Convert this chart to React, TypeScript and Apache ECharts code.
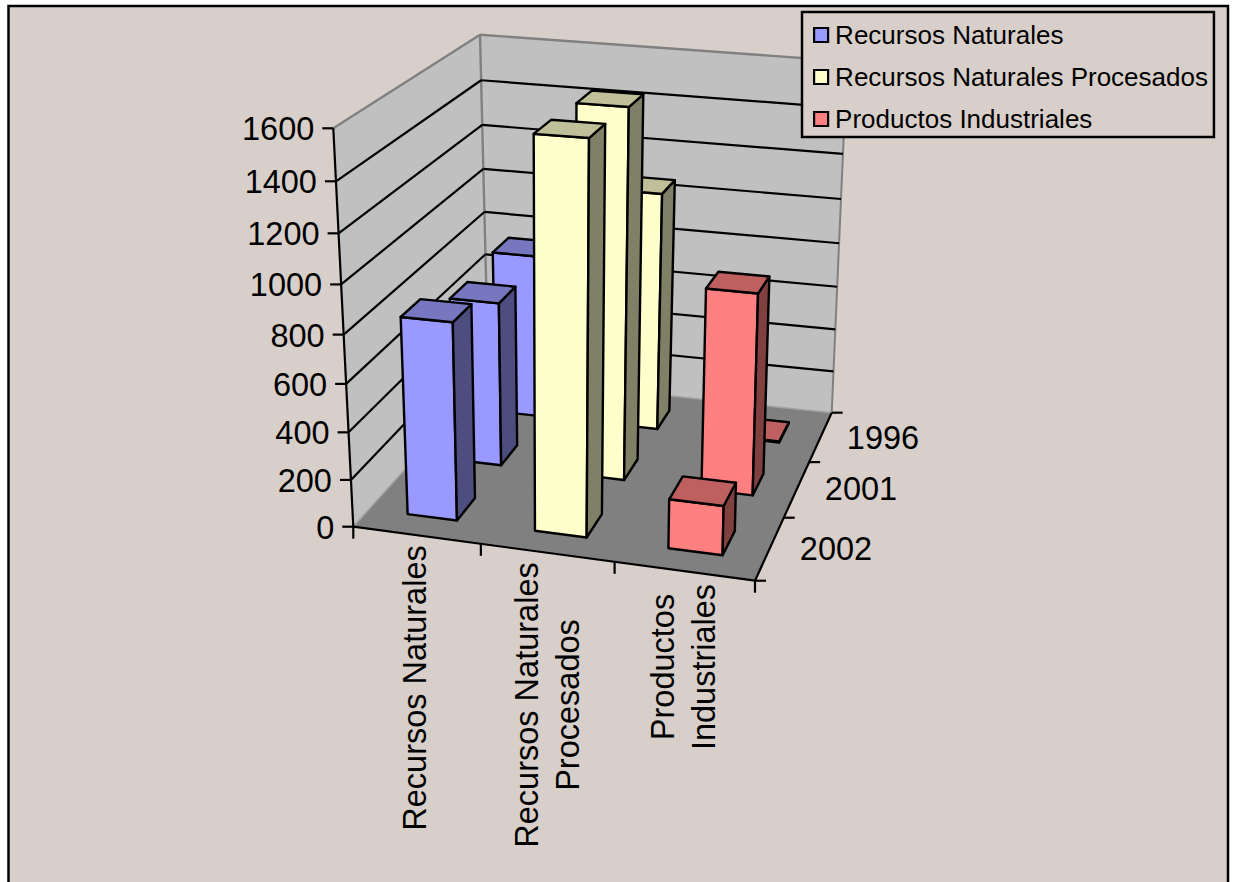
import React, { useEffect, useRef } from "react";
import * as echarts from "echarts";

const categories = ["Recursos Naturales", "Recursos Naturales\nProcesados", "Productos\nIndustriales"];
const seriesNames = ["Recursos Naturales", "Recursos Naturales Procesados", "Productos Industriales"];
const years = ["1996", "2001", "2002"];
const naturales = [745, 720, 830];
const procesados = [1072, 1575, 1590];
const industriales = [5, 868, 205];
const valueTicks = [0, 200, 400, 600, 800, 1000, 1200, 1400, 1600];

const FONT = '"Liberation Sans", Arial, sans-serif';
const VALUE_MAX = 1600;
const GRID_W = 900;
const GRID_H = 800;
const BAR_HALF = 0.0655;
const BAR_SHIFT = 0.0025;
const PERSPECTIVE = 1.074;

type Pt = [number, number];

// Corners of the box in order: front-left, front-right, back-right, back-left.
const FLOOR_QUAD: Pt[] = [[353.3, 526.7], [755, 580.7], [831.7, 412.7], [488.5, 377]];
const CEILING_QUAD: Pt[] = [[333.3, 128.3], [763, 160.8], [847, 61.3], [480, 34.7]];

const faces = [
  { front: "#9999FF", top: "#7777BF", side: "#4D4D80" },
  { front: "#FFFFCC", top: "#BFBF99", side: "#808066" },
  { front: "#FF8080", top: "#BF6060", side: "#804040" },
];

// Unit square to quadrilateral homography.
function quadMap(q: Pt[]) {
  const [p0, p1, p2, p3] = q;
  const d1x = p1[0] - p2[0], d1y = p1[1] - p2[1];
  const d2x = p3[0] - p2[0], d2y = p3[1] - p2[1];
  const sx = p0[0] - p1[0] + p2[0] - p3[0], sy = p0[1] - p1[1] + p2[1] - p3[1];
  const den = d1x * d2y - d2x * d1y;
  const g = (sx * d2y - d2x * sy) / den;
  const h = (d1x * sy - sx * d1y) / den;
  const a = p1[0] - p0[0] + g * p1[0], b = p3[0] - p0[0] + h * p3[0];
  const d = p1[1] - p0[1] + g * p1[1], e = p3[1] - p0[1] + h * p3[1];
  return (u: number, v: number): Pt => {
    const n = g * u + h * v + 1;
    return [(a * u + b * v + p0[0]) / n, (d * u + e * v + p0[1]) / n];
  };
}

const floorAt = quadMap(FLOOR_QUAD);
const ceilingAt = quadMap(CEILING_QUAD);

// u runs along the categories, v from front to back, w from floor to ceiling.
function project(u: number, v: number, w: number): Pt {
  const t = w <= 0 ? 0 : w / (w + (1 - w) * PERSPECTIVE);
  const a = floorAt(u, v), b = ceilingAt(u, v);
  return [a[0] + (b[0] - a[0]) * t, a[1] + (b[1] - a[1]) * t];
}

const poly = (points: Pt[], fill: string, stroke = "#000", lineWidth = 2.4) => ({
  type: "polygon",
  shape: { points },
  style: { fill, stroke, lineWidth, lineJoin: "round" },
});
const seg = (a: Pt, b: Pt, stroke = "#000", lineWidth = 2.2) => ({
  type: "line",
  shape: { x1: a[0], y1: a[1], x2: b[0], y2: b[1] },
  style: { stroke, lineWidth, fill: null },
});
const label = (text: string, x: number, y: number, align: string, extra: any = {}) => ({
  type: "text",
  x,
  y,
  ...extra,
  style: { text, x: 0, y: 0, fill: "#000", font: `32.5px ${FONT}`, align, verticalAlign: "middle", lineHeight: 41 },
});

const valueToW = (api: any, value: number) => 1 - api.coord([0, value])[1] / GRID_H;

// Walls and floor of the box.
const renderBox = () => {
  const gray = "#808080";
  const p = project;
  return {
    type: "group",
    children: [
      poly([p(0, 0, 0), p(0, 1, 0), p(0, 1, 1), p(0, 0, 1)], "#C0C0C0", "none", 0),
      poly([p(0, 1, 0), p(1, 1, 0), p(1, 1, 1), p(0, 1, 1)], "#C0C0C0", "none", 0),
      poly([p(0, 0, 0), p(1, 0, 0), p(1, 1, 0), p(0, 1, 0)], "#808080", "none", 0),
      seg(p(0, 0, 1), p(0, 1, 1), gray, 2.4),
      seg(p(0, 1, 1), p(1, 1, 1), gray, 2.4),
      seg(p(1, 1, 1), p(1, 1, 0), gray, 2),
      seg(p(0, 1, 1), p(0, 1, 0), gray, 2.4),
      seg(p(0, 0, 0), p(0, 1, 0), "#A0A0A0", 1.5),
      seg(p(0, 1, 0), p(1, 1, 0), "#A0A0A0", 1.5),
    ],
  };
};

// One gridline pair on the walls with its tick and value label.
const renderValueTick = (params: any, api: any) => {
  const value = valueTicks[params.dataIndex];
  const w = valueToW(api, value);
  const left = project(0, 0, w), corner = project(0, 1, w), right = project(1, 1, w);
  const inner = value > 0 && value < VALUE_MAX;
  const children: any[] = [];
  if (inner) children.push(seg(left, corner), seg(corner, right));
  children.push(seg(left, [left[0] - 11, left[1]]));
  children.push(label(String(value), left[0] - 19, left[1] + 1, "right"));
  return { type: "group", children };
};

// Front axes: the value edge, the category edge and the depth edge.
const renderAxes = () => {
  const p = project;
  const children: any[] = [
    seg(p(0, 0, 1), p(0, 0, 0)),
    seg(p(0, 0, 0), p(1, 0, 0)),
    seg(p(1, 0, 0), p(1, 1, 0)),
  ];
  for (let i = 0; i <= categories.length; i++) {
    const a = p(i / categories.length, 0, 0);
    children.push(seg(a, [a[0], a[1] + 12]));
  }
  for (let i = 0; i <= years.length; i++) {
    const a = p(1, i / years.length, 0);
    children.push(seg(a, [a[0] + 11, a[1]]));
  }
  return { type: "group", children };
};

const categoryLabelPos: Pt[] = [[415, 688], [547, 705], [683, 667]];
const yearLabelPos: Pt[] = [[883, 438], [861, 489], [836, 549]];

const renderCategoryLabel = (params: any) => {
  const i = params.dataIndex;
  return label(categories[i], categoryLabelPos[i][0], categoryLabelPos[i][1], "center", { rotation: Math.PI / 2 });
};
const renderYearLabel = (params: any) => {
  const i = params.dataIndex;
  return label(years[i], yearLabelPos[i][0], yearLabelPos[i][1], "center");
};

// Solid column drawn as front face, right side and top.
const renderBar = (colour: (typeof faces)[number]) => (params: any, api: any) => {
  const cat = api.value(0);
  const value = api.value(1);
  const u = api.coord([cat, value])[0] / GRID_W + BAR_SHIFT;
  const v = 1 - (params.dataIndex + 0.5) / years.length;
  const w = valueToW(api, value);
  const u0 = u - BAR_HALF, u1 = u + BAR_HALF, v0 = v - BAR_HALF, v1 = v + BAR_HALF;
  const p = project;
  return {
    type: "group",
    children: [
      poly([p(u0, v0, 0), p(u1, v0, 0), p(u1, v0, w), p(u0, v0, w)], colour.front),
      poly([p(u1, v0, 0), p(u1, v1, 0), p(u1, v1, w), p(u1, v0, w)], colour.side),
      poly([p(u0, v0, w), p(u1, v0, w), p(u1, v1, w), p(u0, v1, w)], colour.top),
    ],
  };
};

const helperSeries = (name: string, data: any[], renderItem: any) => ({
  type: "custom",
  name,
  data,
  renderItem,
  silent: true,
  clip: false,
});

export default function App() {
  const ref = useRef<HTMLDivElement>(null);
  useEffect(() => {
    document.body.style.margin = "0";
    const chart = echarts.init(ref.current!, undefined, { renderer: "svg" });
    const barData = [naturales, procesados, industriales];
    chart.setOption({
      animation: false,
      backgroundColor: "#FFFFFF",
      textStyle: { fontFamily: FONT },
      graphic: [
        {
          type: "rect",
          z: -10,
          shape: { x: 8.5, y: 6, width: 1219.5, height: 900 },
          style: { fill: "#D8CFCA", stroke: "#000", lineWidth: 2.5 },
        },
      ],
      grid: { left: 0, top: 0, width: GRID_W, height: GRID_H, containLabel: false },
      xAxis: { type: "category", data: categories, show: false },
      yAxis: { type: "value", min: 0, max: VALUE_MAX, interval: 200, show: false },
      legend: {
        show: true,
        data: seriesNames,
        orient: "vertical",
        left: 802,
        top: 12,
        padding: [10, 6, 5, 11],
        itemWidth: 14,
        itemHeight: 14,
        itemGap: 16,
        icon: "rect",
        selectedMode: false,
        borderColor: "#000",
        borderWidth: 2.5,
        backgroundColor: "#D8CFCA",
        itemStyle: { borderColor: "#000", borderWidth: 2.2 },
        textStyle: { fontFamily: FONT, fontSize: 26, color: "#000", padding: [0, 0, 0, 2] },
      },
      series: [
        helperSeries("caja", [[0, 0]], renderBox),
        helperSeries("valores", valueTicks.map((t) => [0, t]), renderValueTick),
        helperSeries("ejes", [[0, 0]], renderAxes),
        helperSeries("categorias", categories.map((_, i) => [i, 0]), renderCategoryLabel),
        helperSeries("anios", years.map((_, i) => [0, i]), renderYearLabel),
        ...seriesNames.map((name, c) => ({
          type: "custom",
          name,
          silent: true,
          clip: false,
          itemStyle: { color: faces[c].front },
          data: barData[c].map((v) => [c, v]),
          renderItem: renderBar(faces[c]),
        })),
      ],
    });
    return () => chart.dispose();
  }, []);
  return <div ref={ref} style={{ position: "fixed", left: 0, top: 0, width: 1233, height: 882 }} />;
}
